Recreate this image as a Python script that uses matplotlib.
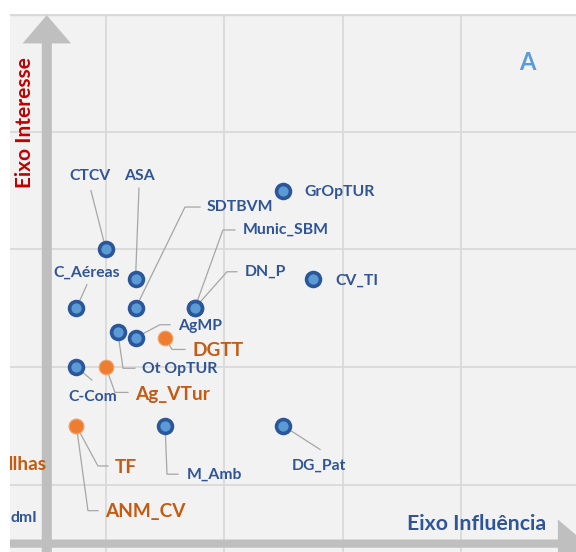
import matplotlib
matplotlib.use("Agg")
import matplotlib.pyplot as plt
from matplotlib.patches import FancyArrow

plt.rcParams['font.family'] = ['Lato', 'DejaVu Sans']

# dados: influência (x) e interesse (y) de cada actor
nomes = ["GrOpTUR", "CV_TI", "CTCV", "ASA", "C_Aéreas", "SDTBVM", "Munic_SBM", "DN_P",
         "AgMP", "Ot OpTUR", "C-Com", "M_Amb", "DG_Pat", "DGTT", "Ag_VTur", "TF", "ANM_CV"]
influencia = [2.5, 2.75, 1.0, 1.25, 0.75, 1.25, 1.75, 1.75,
              1.25, 1.1, 0.75, 1.5, 2.5, 1.5, 1.0, 0.75, 0.75]
interesse = [3.5, 2.75, 3.0, 2.75, 2.5, 2.5, 2.5, 2.5,
             2.25, 2.3, 2.0, 1.5, 1.5, 2.25, 2.0, 1.5, 1.5]
laranja = [False] * 13 + [True] * 4

# rótulos: posição do texto, alinhamento e pontos da linha de chamada (do texto para o ponto)
rotulos = {
    "GrOpTUR": ((2.68, 3.49), 'left', []),
    "CV_TI": ((2.94, 2.73), 'left', []),
    "CTCV": ((0.865, 3.62), 'center', [(0.873, 3.50)]),
    "ASA": ((1.287, 3.62), 'center', [(1.279, 3.52)]),
    "C_Aéreas": ((0.839, 2.80), 'center', [(0.839, 2.70)]),
    "SDTBVM": ((1.854, 3.36), 'left', [(1.795, 3.36), (1.668, 3.36)]),
    "Munic_SBM": ((2.158, 3.165), 'left', [(2.09, 3.165), (1.989, 3.165)]),
    "DN_P": ((2.175, 2.81), 'left', [(2.107, 2.81), (2.023, 2.81)]),
    "AgMP": ((1.609, 2.35), 'left', [(1.541, 2.36), (1.456, 2.36)]),
    "Ot OpTUR": ((1.304, 1.985), 'left', [(1.245, 1.99), (1.144, 1.99)]),
    "C-Com": ((0.679, 1.75), 'left', [(0.881, 1.89)]),
    "M_Amb": ((1.685, 1.085), 'left', [(1.609, 1.09), (1.516, 1.09)]),
    "DG_Pat": ((2.572, 1.165), 'left', [(2.81, 1.30)]),
    "DGTT": ((1.735, 2.145), 'left', [(1.668, 2.15), (1.558, 2.15)]),
    "Ag_VTur": ((1.245, 1.77), 'left', [(1.186, 1.785), (1.076, 1.785)]),
    "TF": ((1.076, 1.15), 'left', [(1.017, 1.16), (0.932, 1.16)]),
    "ANM_CV": ((0.992, 0.775), 'left', [(0.932, 0.78), (0.848, 0.78)]),
}

azul_txt = '#2F5597'
laranja_txt = '#C55A11'

fig = plt.figure(figsize=(5.76, 5.52), dpi=100)
ax = fig.add_axes([10 / 576, 0, 566 / 576, 538 / 552])
ax.set_facecolor('#F2F2F2')
ax.set_xlim(0.189, 4.973)
ax.set_ylim(0.429, 5.0)
for s in ax.spines.values():
    s.set_visible(False)
ax.set_xticks([1, 2, 3, 4])
ax.set_yticks([1, 2, 3, 4, 5])
ax.tick_params(length=0, labelbottom=False, labelleft=False)
ax.grid(True, color='#D9D9D9', lw=1.3, zorder=0)
ax.set_axisbelow(True)
ax.axhline(5.0, color='#D9D9D9', lw=2.5, zorder=0)

# setas dos eixos
ax.add_patch(FancyArrow(0.15, 0.5, 4.91, 0, width=0.07, head_width=0.41, head_length=0.24,
                        length_includes_head=True, color='#BFBFBF', lw=0, zorder=1))
ax.add_patch(FancyArrow(0.5, 0.3, 0, 4.69, width=0.085, head_width=0.41, head_length=0.24,
                        length_includes_head=True, color='#BFBFBF', lw=0, zorder=1))

# linhas de chamada
for n, x, y in zip(nomes, influencia, interesse):
    pos, ha, linha = rotulos[n]
    if linha:
        xs = [x] + [p[0] for p in reversed(linha)]
        ys = [y] + [p[1] for p in reversed(linha)]
        ax.plot(xs, ys, color='#A6A6A6', lw=0.9, zorder=2)

# pontos
for n, x, y, lar in zip(nomes, influencia, interesse, laranja):
    if lar:
        ax.plot(x, y, 'o', ms=10.5, mfc='#ED7D31', mec='#F4A266', mew=0.8, zorder=3)
    else:
        ax.plot(x, y, 'o', ms=10, mfc='#5B9BD5', mec='#2B579A', mew=2.6, zorder=3)

# textos dos rótulos
for n, lar in zip(nomes, laranja):
    pos, ha, linha = rotulos[n]
    if lar:
        ax.text(pos[0], pos[1], n, ha=ha, va='center', color=laranja_txt,
                fontsize=13.7, fontweight='bold', zorder=4)
    else:
        ax.text(pos[0], pos[1], n, ha=ha, va='center', color=azul_txt,
                fontsize=11.3, fontweight='bold', zorder=4)

# rótulos cortados à esquerda
ax.text(0.17, 1.175, "Ilhas", ha='left', va='center', color=laranja_txt,
        fontsize=13.7, fontweight='bold', clip_on=True)
ax.text(0.19, 0.718, "dmI", ha='left', va='center', color=azul_txt,
        fontsize=11.3, fontweight='bold', clip_on=True)

# títulos dos eixos e quadrante
ax.text(0.32, 4.08, "Eixo Interesse", rotation=90, ha='center', va='center',
        color='#C00000', fontsize=15, fontweight='bold')
ax.text(4.136, 0.667, "Eixo Influência", ha='center', va='center',
        color=azul_txt, fontsize=15.3, fontweight='bold')
ax.text(4.559, 4.584, "A", ha='center', va='center', color='#5B9BD5',
        fontsize=17, fontweight='bold')

fig.savefig("out.png", dpi=100, facecolor='white')
